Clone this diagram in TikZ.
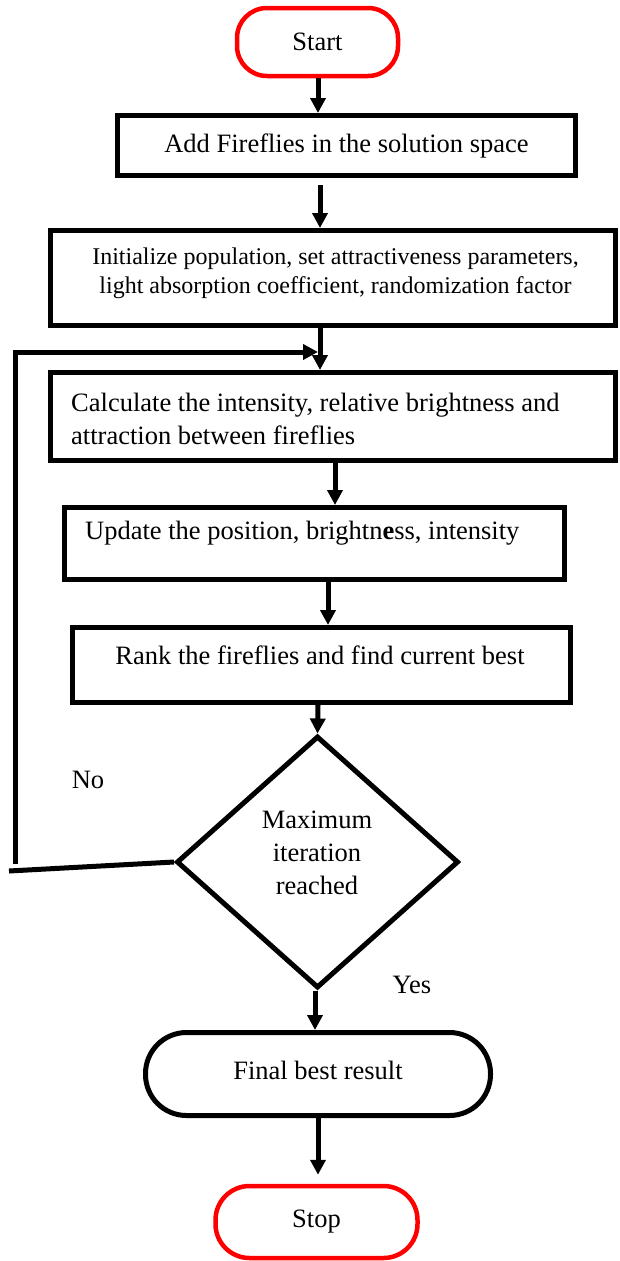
\documentclass[tikz,border=0pt]{standalone}
\usepackage{fontspec}
\setmainfont{Liberation Serif}
\usetikzlibrary{shapes.geometric,arrows.meta}
\newcommand\bigf{\fontsize{26.5}{33}\selectfont}
\newcommand\smallf{\fontsize{24}{29}\selectfont}
\tikzset{
  box/.style={draw, line width=5pt, rectangle, inner sep=0pt},
  term/.style={draw=red, line width=4.5pt, inner sep=0pt, font=\bigf},
  oval/.style={draw, line width=5pt, inner sep=0pt, font=\bigf},
  dia/.style={draw, line width=5pt, diamond, inner sep=0pt, font=\bigf, align=center},
  txt/.style={font=\bigf, inner sep=0pt},
  stxt/.style={font=\smallf, inner sep=0pt, align=center},
  conn/.style={line width=5pt},
  arr/.style={line width=5pt, -{Triangle[width=15pt,length=15pt]}},
}
\begin{document}
\begin{tikzpicture}[x=1pt,y=-1pt]
\useasboundingbox (0,0) rectangle (620,1261);
% nodes
\node[term, rounded corners=30pt, minimum width=161pt, minimum height=68pt] (st) at (317.5,42) {Start};
\node[box, minimum width=458pt, minimum height=60pt, font=\bigf] (b1) at (346.5,145.5) {Add Fireflies in the solution space};
\node[box, minimum width=565pt, minimum height=95pt] (b2) at (333,278) {};
\node[stxt] (t2) at (335.5,273) {Initialize population, set attractiveness parameters,\\light absorption coefficient, randomization factor};
\node[box, minimum width=565pt, minimum height=88pt] (b3) at (333,416.5) {};
\node[txt, anchor=west, align=left] (t3) at (71,419) {Calculate the intensity, relative brightness and\\attraction between fireflies};
\node[box, minimum width=500pt, minimum height=72pt] (b4) at (314.5,543.5) {};
\node[txt, anchor=west] (t4) at (85,533) {Update the position, brightn\textbf{e}ss, intensity};
\node[box, minimum width=498pt, minimum height=75pt] (b5) at (321.5,665) {};
\node[txt] (t5) at (320,655) {Rank the fireflies and find current best};
\node[dia, minimum width=282pt, minimum height=252pt] (d) at (317.5,862) {};
\node[txt, align=center] (td) at (317,853) {Maximum\\iteration\\reached};
\node[oval, rounded corners=41pt, minimum width=345pt, minimum height=83pt] (fin) at (318,1074) {};
\node[txt] (tf) at (318,1070) {Final best result};
\node[term, rounded corners=34pt, minimum width=202pt, minimum height=72pt] (sp) at (316.5,1222) {Stop};
\node[txt] (no) at (88,780) {No};
\node[txt] (yes) at (412,985) {Yes};
% x positions of connectors
\coordinate (x1) at (318,0);
\coordinate (x2) at (320,0);
\coordinate (x3) at (335,0);
\coordinate (x4) at (328,0);
\coordinate (x5) at (315,0);
% connectors
\draw[arr] (st.south -| x1) -- (b1.north -| x1);
\draw[arr, shorten <=7pt] (b1.south -| x2) -- (b2.north -| x2);
\draw[arr] (b2.south -| x2) -- (b3.north -| x2);
\draw[arr] (b3.south -| x3) -- (b4.north -| x3);
\draw[arr] (b4.south -| x4) -- (b5.north -| x4);
\draw[arr] (b5.south -| x1) -- (d.north);
\draw[arr] (d.south -| x5) -- (fin.north -| x5);
\draw[arr, shorten >=9pt] (fin.south -| x1) -- (sp.north -| x1);
% feedback loop
\coordinate (fa) at (9,871);
\coordinate (fb) at (15,864);
\coordinate (fc) at (15,352);
\coordinate (fd) at (318,352);
\draw[conn] (d.west) -- (fa);
\draw[arr] (fb) -- (fc) -- (fd);
\end{tikzpicture}
\end{document}
